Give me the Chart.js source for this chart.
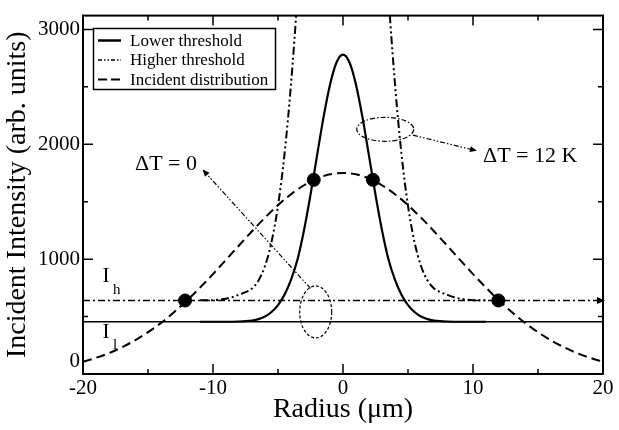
<!DOCTYPE html>
<html lang="en">
<head>
<meta charset="UTF-8">
<title>Incident intensity vs radius</title>
<style>
  html, body { margin: 0; padding: 0; background: #fff; }
  #wrap { width: 619px; height: 430px; }
  canvas { display: block; }
</style>
</head>
<body>
<div id="wrap"><canvas id="chart" width="619" height="430"></canvas></div>
<script src="https://cdn.jsdelivr.net/npm/chart.js@4.4.0/dist/chart.umd.min.js"></script>
<script>
// values
const xTicks = [-20, -10, 0, 10, 20];
const xMinor = [-15, -5, 5, 15];
const yTicks = [0, 1000, 2000, 3000];
const yMinor = [500, 1500, 2500];

const incidentRadius = [-20, -19, -18, -17, -16, -15, -14, -13, -12, -11, -10, -9, -8, -7, -6, -5, -4, -3, -2, -1, 0,
  1, 2, 3, 4, 5, 6, 7, 8, 9, 10, 11, 12, 13, 14, 15, 16, 17, 18, 19, 20];
const incidentValues = [107, 141, 182, 233, 293, 364, 445, 538, 640, 752, 870, 994, 1119, 1243, 1361, 1470, 1565, 1643, 1702, 1738, 1750,
  1738, 1702, 1643, 1565, 1470, 1361, 1243, 1119, 994, 870, 752, 640, 538, 445, 364, 293, 233, 182, 141, 107];

const lowerRadius = [-11, -10, -9, -8, -7.5, -7, -6.5, -6, -5.5, -5, -4.5, -4, -3.5, -3, -2.5, -2, -1.5, -1, -0.5, 0,
  0.5, 1, 1.5, 2, 2.5, 3, 3.5, 4, 4.5, 5, 5.5, 6, 6.5, 7, 7.5, 8, 9, 10, 11];
const lowerValues = [455, 455, 455, 457, 460, 466, 478, 500, 540, 600, 690, 820, 996, 1251, 1560, 1899, 2234, 2519, 2712, 2780,
  2712, 2519, 2234, 1899, 1560, 1251, 996, 820, 690, 600, 540, 500, 478, 466, 460, 457, 455, 455, 455];

const higherRadius = [-11, -10, -9.5, -9, -8.5, -8, -7.5, -7, -6.5, -6, -5.5, -5, -4.5, -4, -3.5, -3, 0,
  3, 3.5, 4, 4.5, 5, 5.5, 6, 6.5, 7, 7.5, 8, 8.5, 9, 9.5, 10, 11];
const higherValues = [641, 643, 648, 656, 670, 690, 712, 745, 815, 940, 1149, 1464, 1915, 2522, 3295, 4218, null,
  4218, 3295, 2522, 1915, 1464, 1149, 940, 815, 745, 712, 690, 670, 656, 648, 643, 641];

const levelRadius = [-20, 20];
const highLevel = 640;   // I_h
const lowLevel = 455;    // I_l

const crossRadius = [-12.15, -2.25, 2.3, 11.95];
const crossValues = [640, 1690, 1690, 640];

const legendLabels = ['Lower threshold', 'Higher threshold', 'Incident distribution'];

const SERIF = "'Liberation Serif', 'Times New Roman', serif";
const DASH_HIGH = [8, 3, 2, 3, 2, 3];
const DASH_LEVEL = [7, 3, 2, 3];
const DASH_INC = [9, 5];

function pts(xs, ys) {
  return xs.map((v, i) => ({ x: v, y: ys[i] }));
}

function arrowHead(ctx, x0, y0, x1, y1, len, half) {
  const a = Math.atan2(y1 - y0, x1 - x0);
  ctx.setLineDash([]);
  ctx.beginPath();
  ctx.moveTo(x1, y1);
  ctx.lineTo(x1 - len * Math.cos(a) + half * Math.sin(a), y1 - len * Math.sin(a) - half * Math.cos(a));
  ctx.lineTo(x1 - len * Math.cos(a) - half * Math.sin(a), y1 - len * Math.sin(a) + half * Math.cos(a));
  ctx.closePath();
  ctx.fill();
}

// frame, inward ticks, legend and the annotations
const decorations = {
  id: 'decorations',
  afterDatasetsDraw(chart) {
    const { ctx, chartArea: a, scales: { x, y } } = chart;
    ctx.save();
    ctx.strokeStyle = '#000';
    ctx.fillStyle = '#000';

    // ticks
    ctx.lineWidth = 1.5;
    ctx.setLineDash([]);
    ctx.beginPath();
    const tx = (vals, len) => vals.forEach(v => {
      const p = x.getPixelForValue(v);
      ctx.moveTo(p, a.bottom); ctx.lineTo(p, a.bottom - len);
      ctx.moveTo(p, a.top); ctx.lineTo(p, a.top + len);
    });
    const ty = (vals, len) => vals.forEach(v => {
      const p = y.getPixelForValue(v);
      ctx.moveTo(a.left, p); ctx.lineTo(a.left + len, p);
      ctx.moveTo(a.right, p); ctx.lineTo(a.right - len, p);
    });
    tx(xTicks, 10); tx(xMinor, 5);
    ty(yTicks, 10); ty(yMinor, 5);
    ctx.stroke();

    // frame
    ctx.lineWidth = 2;
    ctx.strokeRect(a.left, a.top, a.right - a.left, a.bottom - a.top);

    // arrow at the end of I_h
    const hx = x.getPixelForValue(levelRadius[1]);
    const hy = y.getPixelForValue(highLevel);
    arrowHead(ctx, hx - 10, hy, hx + 2, hy, 8, 3.5);

    // legend
    ctx.lineWidth = 1.5;
    ctx.strokeRect(93.5, 28.5, 182, 61);
    const rows = [40.5, 60, 79.5];
    const styles = [
      { dash: [], w: 2.5 },
      { dash: [4, 2, 1.5, 2, 1.5, 2], w: 1.5 },
      { dash: [9, 4], w: 2 }
    ];
    ctx.font = '17px ' + SERIF;
    ctx.textBaseline = 'middle';
    ctx.textAlign = 'left';
    rows.forEach((ry, i) => {
      ctx.lineWidth = styles[i].w;
      ctx.setLineDash(styles[i].dash);
      ctx.beginPath();
      ctx.moveTo(98, ry); ctx.lineTo(121, ry);
      ctx.stroke();
      ctx.fillText(legendLabels[i], 130, ry + 1);
    });

    // annotations (data coordinates)
    const X = v => x.getPixelForValue(v);
    const Y = v => y.getPixelForValue(v);
    ctx.lineWidth = 1.2;

    // ΔT = 0
    ctx.setLineDash([3, 2]);
    ctx.beginPath();
    ctx.ellipse(X(-2.1), Y(540), 16, 26, 0, 0, Math.PI * 2);
    ctx.stroke();
    ctx.setLineDash([5, 2, 1.5, 2, 1.5, 2]);
    const a0 = [X(-2.5), Y(745), X(-10.8), Y(1780)];
    ctx.beginPath();
    ctx.moveTo(a0[0], a0[1]); ctx.lineTo(a0[2], a0[3]);
    ctx.stroke();
    arrowHead(ctx, a0[0], a0[1], a0[2], a0[3], 7, 3);

    // ΔT = 12 K
    ctx.setLineDash([5, 2, 1.5, 2]);
    ctx.beginPath();
    ctx.ellipse(X(3.25), Y(2130), 28.5, 12, 0, 0, Math.PI * 2);
    ctx.stroke();
    ctx.setLineDash([5, 2, 1.5, 2, 1.5, 2]);
    const a1 = [X(5.38), Y(2079), X(10.3), Y(1943)];
    ctx.beginPath();
    ctx.moveTo(a1[0], a1[1]); ctx.lineTo(a1[2], a1[3]);
    ctx.stroke();
    arrowHead(ctx, a1[0], a1[1], a1[2], a1[3], 7, 3);

    ctx.font = '22px ' + SERIF;
    ctx.fillText('ΔT = 0', X(-16), Y(1823));
    ctx.fillText('ΔT = 12 K', X(10.77), Y(1892));

    // I_h and I_l
    ctx.font = '21px ' + SERIF;
    ctx.fillText('I', X(-18.5), Y(846));
    ctx.fillText('I', X(-18.5), Y(361));
    ctx.font = '15px ' + SERIF;
    ctx.fillText('h', X(-17.7), Y(735));
    ctx.fillText('l', X(-17.7), Y(251));

    ctx.restore();
  }
};

new Chart(document.getElementById('chart'), {
  type: 'line',
  data: {
    datasets: [
      {
        label: 'Incident distribution',
        data: pts(incidentRadius, incidentValues),
        borderColor: '#000', borderWidth: 2, borderDash: DASH_INC,
        pointRadius: 0, cubicInterpolationMode: 'monotone'
      },
      {
        label: 'Lower threshold',
        data: pts(lowerRadius, lowerValues),
        borderColor: '#000', borderWidth: 2.2,
        pointRadius: 0, cubicInterpolationMode: 'monotone'
      },
      {
        label: 'Higher threshold',
        data: pts(higherRadius, higherValues),
        borderColor: '#000', borderWidth: 2, borderDash: DASH_HIGH,
        pointRadius: 0, cubicInterpolationMode: 'monotone', spanGaps: false
      },
      {
        label: 'I_h',
        data: pts(levelRadius, [highLevel, highLevel]),
        borderColor: '#000', borderWidth: 1.6, borderDash: DASH_LEVEL,
        pointRadius: 0
      },
      {
        label: 'I_l',
        data: pts(levelRadius, [lowLevel, lowLevel]),
        borderColor: '#000', borderWidth: 1.5,
        pointRadius: 0
      },
      {
        label: 'crossings',
        data: pts(crossRadius, crossValues),
        showLine: false,
        pointRadius: 6.5, pointBackgroundColor: '#000', pointBorderColor: '#000'
      }
    ]
  },
  options: {
    responsive: false,
    animation: false,
    devicePixelRatio: 1,
    layout: { padding: { top: 8, right: 16, left: 0, bottom: 0 } },
    plugins: { legend: { display: false }, tooltip: { enabled: false } },
    scales: {
      x: {
        type: 'linear', min: -20, max: 20,
        afterFit: s => { s.height = 56; },
        afterBuildTicks: s => { s.ticks = xTicks.map(v => ({ value: v })); },
        grid: { display: false, drawTicks: false },
        border: { display: false },
        ticks: { color: '#000', padding: 2, maxRotation: 0, font: { family: SERIF, size: 21 } },
        title: {
          display: true, text: 'Radius (μm)', color: '#000',
          padding: { top: 0, bottom: 4 },
          font: { family: SERIF, size: 28 }
        }
      },
      y: {
        type: 'linear', min: 0, max: 3120,
        afterFit: s => { s.width = 83; },
        afterBuildTicks: s => { s.ticks = yTicks.map(v => ({ value: v })); },
        grid: { display: false, drawTicks: false },
        border: { display: false },
        ticks: {
          color: '#000', padding: 3, font: { family: SERIF, size: 21 },
          callback: v => v === 0 ? ['0', ''] : String(v)
        },
        title: {
          display: true, text: 'Incident Intensity (arb. units)', color: '#000',
          padding: { top: 1, bottom: 0 },
          font: { family: SERIF, size: 28 }
        }
      }
    }
  },
  plugins: [decorations]
});
</script>
</body>
</html>
